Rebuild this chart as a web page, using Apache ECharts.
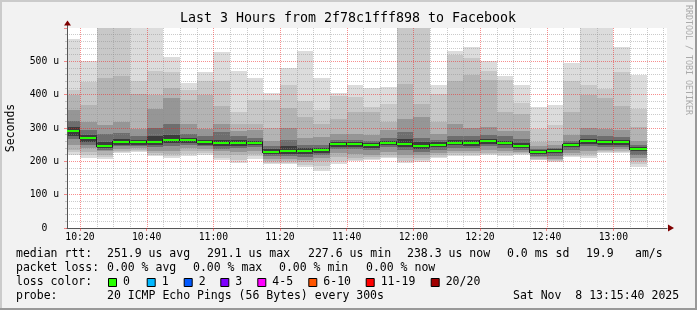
<!DOCTYPE html>
<html><head><meta charset="utf-8">
<script src="https://cdn.jsdelivr.net/npm/echarts@6/dist/echarts.min.js"></script>
<style>html,body{margin:0;padding:0;background:#f2f2f2;overflow:hidden}#c{width:697px;height:310px}</style>
</head><body><div id="c"></div>
<script>
const FONT = '"DejaVu Sans Mono", monospace';
const chartTitle = 'Last 3 Hours from 2f78c1fff898 to Facebook';
const axisStart = '10:16:06', axisEnd = '13:16:06';
const binMinutes = 5;
// end time of each 5-minute bin
const binEnds = ['10:20','10:25','10:30','10:35','10:40','10:45','10:50','10:55','11:00','11:05','11:10','11:15',
  '11:20','11:25','11:30','11:35','11:40','11:45','11:50','11:55','12:00','12:05','12:10','12:15',
  '12:20','12:25','12:30','12:35','12:40','12:45','12:50','12:55','13:00','13:05','13:10'];
// median rtt (us)
const median = [291,270,246,257,257,257,263,263,257,254,254,254,228,230,230,233,251,251,248,256,252,246,249,255,255,261,255,246,228,230,249,261,257,257,238];
// smoke bands (us): outermost (min/max) to innermost
const maxRtt = [566,500,650,650,620,620,512,435,467,527,471,449,404,480,530,449,404,428,419,422,650,650,428,530,542,500,455,428,362,368,494,620,620,542,459];
const hi2 = [413,438,610,610,440,471,467,415,440,440,348,383,383,428,380,353,395,393,363,373,610,610,403,518,509,471,443,374,298,308,440,428,416,467,358];
const hi3 = [398,368,449,455,403,398,420,383,400,365,313,313,300,360,333,313,328,348,348,318,431,371,318,440,460,443,348,343,258,260,348,400,390,365,303];
const hi4 = [353,318,308,318,298,358,390,313,298,313,290,293,262,300,270,273,283,283,278,293,328,333,283,313,300,303,290,290,245,248,278,300,298,293,262];
const hi5 = [320,293,283,285,275,300,313,283,275,288,275,270,245,265,250,250,265,265,262,270,288,270,265,275,275,278,275,268,238,240,262,278,275,273,250];
const hi6 = [303,280,258,268,265,275,280,270,265,265,265,262,236,245,240,240,258,258,255,262,268,258,257,263,263,268,262,255,233,236,255,268,265,264,244];
const lo6 = [275,258,240,250,250,250,255,256,250,245,246,248,222,222,222,225,244,244,240,250,242,238,242,248,247,253,248,240,222,224,242,253,250,250,230];
const lo5 = [268,250,235,245,246,243,245,250,245,238,240,242,216,215,212,218,238,236,233,242,233,228,235,240,240,245,240,233,217,215,235,245,243,243,220];
const lo4 = [248,240,230,238,240,232,232,240,238,230,228,232,208,208,205,210,225,222,220,228,220,218,225,232,230,235,230,228,212,208,225,232,235,236,210];
const lo3 = [235,228,220,232,235,225,222,230,230,220,218,222,200,200,197,200,212,210,212,220,210,210,218,225,224,226,224,224,208,203,218,222,230,231,200];
const lo2 = [228,220,214,228,232,220,216,222,225,210,205,215,196,195,190,186,200,205,207,214,202,204,214,220,220,222,220,222,205,200,215,215,227,228,192];
const minRtt = [218,210,206,224,229,215,210,215,220,203,195,208,192,192,184,172,192,201,203,210,195,198,210,217,217,218,217,220,203,198,213,210,224,225,184];
const xTickLabels = ['10:20','10:40','11:00','11:20','11:40','12:00','12:20','12:40','13:00'];
const lossLabels = ['0','1','2','3','4-5','6-10','11-19','20/20'];
const lossColors = ['#26ff00','#00b8ff','#0059ff','#7e00ff','#ff00ff','#ff5500','#ff0000','#a10000'];
const legendRows = [
  [['median rtt:',16],['251.9 us avg',107],['291.1 us max',207],['227.6 us min',308],['238.3 us now',407],['0.0 ms sd',507],['19.9',586],['am/s',635]],
  [['packet loss:',16],['0.00 % avg',107],['0.00 % max',193],['0.00 % min',279],['0.00 % now',366]],
  [['loss color:',16]],
  [['probe:',16],['20 ICMP Echo Pings (56 Bytes) every 300s',107],['Sat Nov  8 13:15:40 2025',513]]
];
const lossTextX = [123,161.7,198.7,235.3,272.3,323.3,380.7,445.7];

function toMin(s){const p=String(s).split(':').map(Number);return p[0]*60+p[1]+(p[2]||0)/60;}
function fmtMin(v){const h=Math.floor(v/60+1e-6), m=Math.round(v-h*60);return (h<10?'0':'')+h+':'+(m<10?'0':'')+m;}
const xMin = toMin(axisStart), xMax = toMin(axisEnd);
const majorVals = xTickLabels.map(s => toMin(s));
const minorVals = [];
for (let v = Math.ceil(xMin/binMinutes)*binMinutes; v <= xMax; v += binMinutes) {
  if (!majorVals.some(m => Math.abs(m - v) < 0.01)) minorVals.push(v);
}
const his = [maxRtt,hi2,hi3,hi4,hi5,hi6];
const los = [minRtt,lo2,lo3,lo4,lo5,lo6];
const smokeColors = ['#dcdcdc','#c8c8c8','#b4b4b4','#969696','#6e6e6e','#3c3c3c'];
const binData = binEnds.map((t,i)=>[toMin(t), i]);

const GRID_C = 'rgba(140,140,140,0.45)';
const MGRID_C = 'rgba(240,30,30,0.5)';
const AXIS_C = '#555555';
const Y_MIN = 0, Y_MAX = 600;

function clipR(r, cs){return echarts.graphic.clipRectByRect(r,{x:cs.x,y:cs.y,width:cs.width,height:cs.height});}

function smokeItem(params, api){
  const i = api.value(1), t1 = api.value(0), t0 = t1 - binMinutes, cs = params.coordSys;
  const children = [];
  for (let k=0;k<his.length;k++){
    const a = api.coord([t0, his[k][i]]), b = api.coord([t1, los[k][i]]);
    const x0=Math.round(a[0]), x1=Math.round(b[0]), y0=Math.round(a[1]), y1=Math.round(b[1]);
    const r = clipR({x:x0,y:y0,width:x1-x0,height:y1-y0}, cs);
    if (r) children.push({type:'rect',shape:r,style:{fill:smokeColors[k]}});
  }
  return {type:'group',children};
}
function medianItem(params, api){
  const i = api.value(1), t1 = api.value(0), t0 = t1 - binMinutes, cs = params.coordSys;
  const a = api.coord([t0, median[i]]), b = api.coord([t1, median[i]]);
  const x0 = Math.max(Math.round(a[0]), cs.x), x1 = Math.round(b[0]), y = Math.round(a[1]);
  const children = [];
  if (i > 0){
    const yp = Math.round(api.coord([t0, median[i-1]])[1]);
    const top = Math.min(yp,y)-1, bot = Math.max(yp,y)+1;
    children.push({type:'rect',shape:{x:x0-1,y:top,width:1,height:bot-top},style:{fill:'#202020'}});
  }
  children.push({type:'rect',shape:{x:x0,y:y-1,width:x1-x0,height:2},style:{fill:lossColors[0]}});
  return {type:'group',children};
}
function makeGridItem(color){
  return function(params, api){
    const v = api.value(0);
    const a = api.coord([v, Y_MIN]), b = api.coord([v, Y_MAX]);
    const x = Math.round(a[0]);
    const y0 = Math.round(b[1]), y1 = Math.round(a[1]);
    const children = [];
    for (let y = y1 - 2; y >= y0; y -= 2) {
      children.push({type:'rect',shape:{x:x,y:y,width:1,height:1},style:{fill:color}});
    }
    return {type:'group',children};
  };
}

const graphics = [
  {type:'rect',shape:{x:0,y:0,width:697,height:2},style:{fill:'#cbcbcb'},silent:true},
  {type:'rect',shape:{x:0,y:0,width:2,height:310},style:{fill:'#cbcbcb'},silent:true},
  {type:'rect',shape:{x:0,y:308,width:697,height:2},style:{fill:'#999999'},silent:true},
  {type:'rect',shape:{x:695,y:0,width:2,height:310},style:{fill:'#999999'},silent:true},
  {type:'text',x:348,y:19,style:{text:chartTitle,font:'13.3px '+FONT,fill:'#000',align:'center',verticalAlign:'middle'}},
  {type:'text',x:11,y:128,rotation:Math.PI/2,style:{text:'Seconds',font:'11.5px '+FONT,fill:'#000',align:'center',verticalAlign:'middle'}},
  {type:'text',x:688,y:60,rotation:-Math.PI/2,style:{text:'RRDTOOL / TOBI OETIKER',font:'8.3px '+FONT,fill:'#aaaaaa',align:'center',verticalAlign:'middle'}},
  {type:'line',shape:{x1:67.5,y1:25,x2:67.5,y2:28},style:{stroke:AXIS_C,lineWidth:1}},
  {type:'polygon',shape:{points:[[64,25.5],[67.5,20.5],[71,25.5]]},style:{fill:'#7f0000'}},
  {type:'polygon',shape:{points:[[668,224.5],[674,228],[668,231.5]]},style:{fill:'#7f0000'}}
];
const rowY = [254,268,282,296];
legendRows.forEach((row,r)=>row.forEach(([t,x])=>graphics.push({type:'text',x:x,y:rowY[r],style:{text:t,font:'11.5px '+FONT,fill:'#000',align:'left',verticalAlign:'middle'}})));
lossLabels.forEach((l,i)=>{
  graphics.push({type:'rect',shape:{x:lossTextX[i]-14.5,y:278.5,width:8,height:8},style:{fill:lossColors[i],stroke:'#000',lineWidth:1}});
  graphics.push({type:'text',x:lossTextX[i],y:rowY[2],style:{text:l,font:'11.5px '+FONT,fill:'#000',align:'left',verticalAlign:'middle'}});
});

const chart = echarts.init(document.getElementById('c'), null, {renderer:'canvas'});
chart.setOption({
  animation:false,
  backgroundColor:'#f2f2f2',
  grid:{left:67,top:28,width:600,height:200,show:true,backgroundColor:'#ffffff',borderWidth:0},
  xAxis:{type:'value',min:xMin,max:xMax,position:'bottom',z:4,
     axisLine:{show:true,lineStyle:{color:AXIS_C,width:1}},
     axisTick:{show:true,customValues:majorVals,length:3,inside:false,lineStyle:{color:MGRID_C}},
     axisLabel:{customValues:majorVals,formatter:fmtMin,fontFamily:FONT,fontSize:9.75,color:'#000',margin:4},
     splitLine:{show:false}},
  yAxis:{type:'value',min:Y_MIN,max:Y_MAX,interval:100,z:4,
    axisLine:{show:true,lineStyle:{color:AXIS_C,width:1}},
    axisTick:{show:true,length:3,lineStyle:{color:MGRID_C}},
    minorTick:{show:true,splitNumber:5,length:2,lineStyle:{color:GRID_C}},
    axisLabel:{formatter:v=>v===0?'0  ':v+' u',showMaxLabel:false,fontFamily:FONT,fontSize:9.75,color:'#000',margin:8},
    splitLine:{show:true,showMaxLine:false,lineStyle:{color:MGRID_C,type:[1,1],width:1}},
    minorSplitLine:{show:true,lineStyle:{color:GRID_C,type:[1,1],width:1}}},
  graphic:graphics,
  series:[
    {type:'custom',name:'smoke',z:2,renderItem:smokeItem,dimensions:['end','bin'],encode:{x:'end'},data:binData,silent:true},
    {type:'custom',name:'minorGrid',z:3,renderItem:makeGridItem(GRID_C),dimensions:['t'],encode:{x:'t'},data:minorVals.map(v=>[v]),silent:true},
    {type:'custom',name:'majorGrid',z:4,renderItem:makeGridItem(MGRID_C),dimensions:['t'],encode:{x:'t'},data:majorVals.map(v=>[v]),silent:true},
    {type:'custom',name:'median',z:10,renderItem:medianItem,dimensions:['end','bin'],encode:{x:'end'},data:binData,silent:true}
  ]
});
</script></body></html>
